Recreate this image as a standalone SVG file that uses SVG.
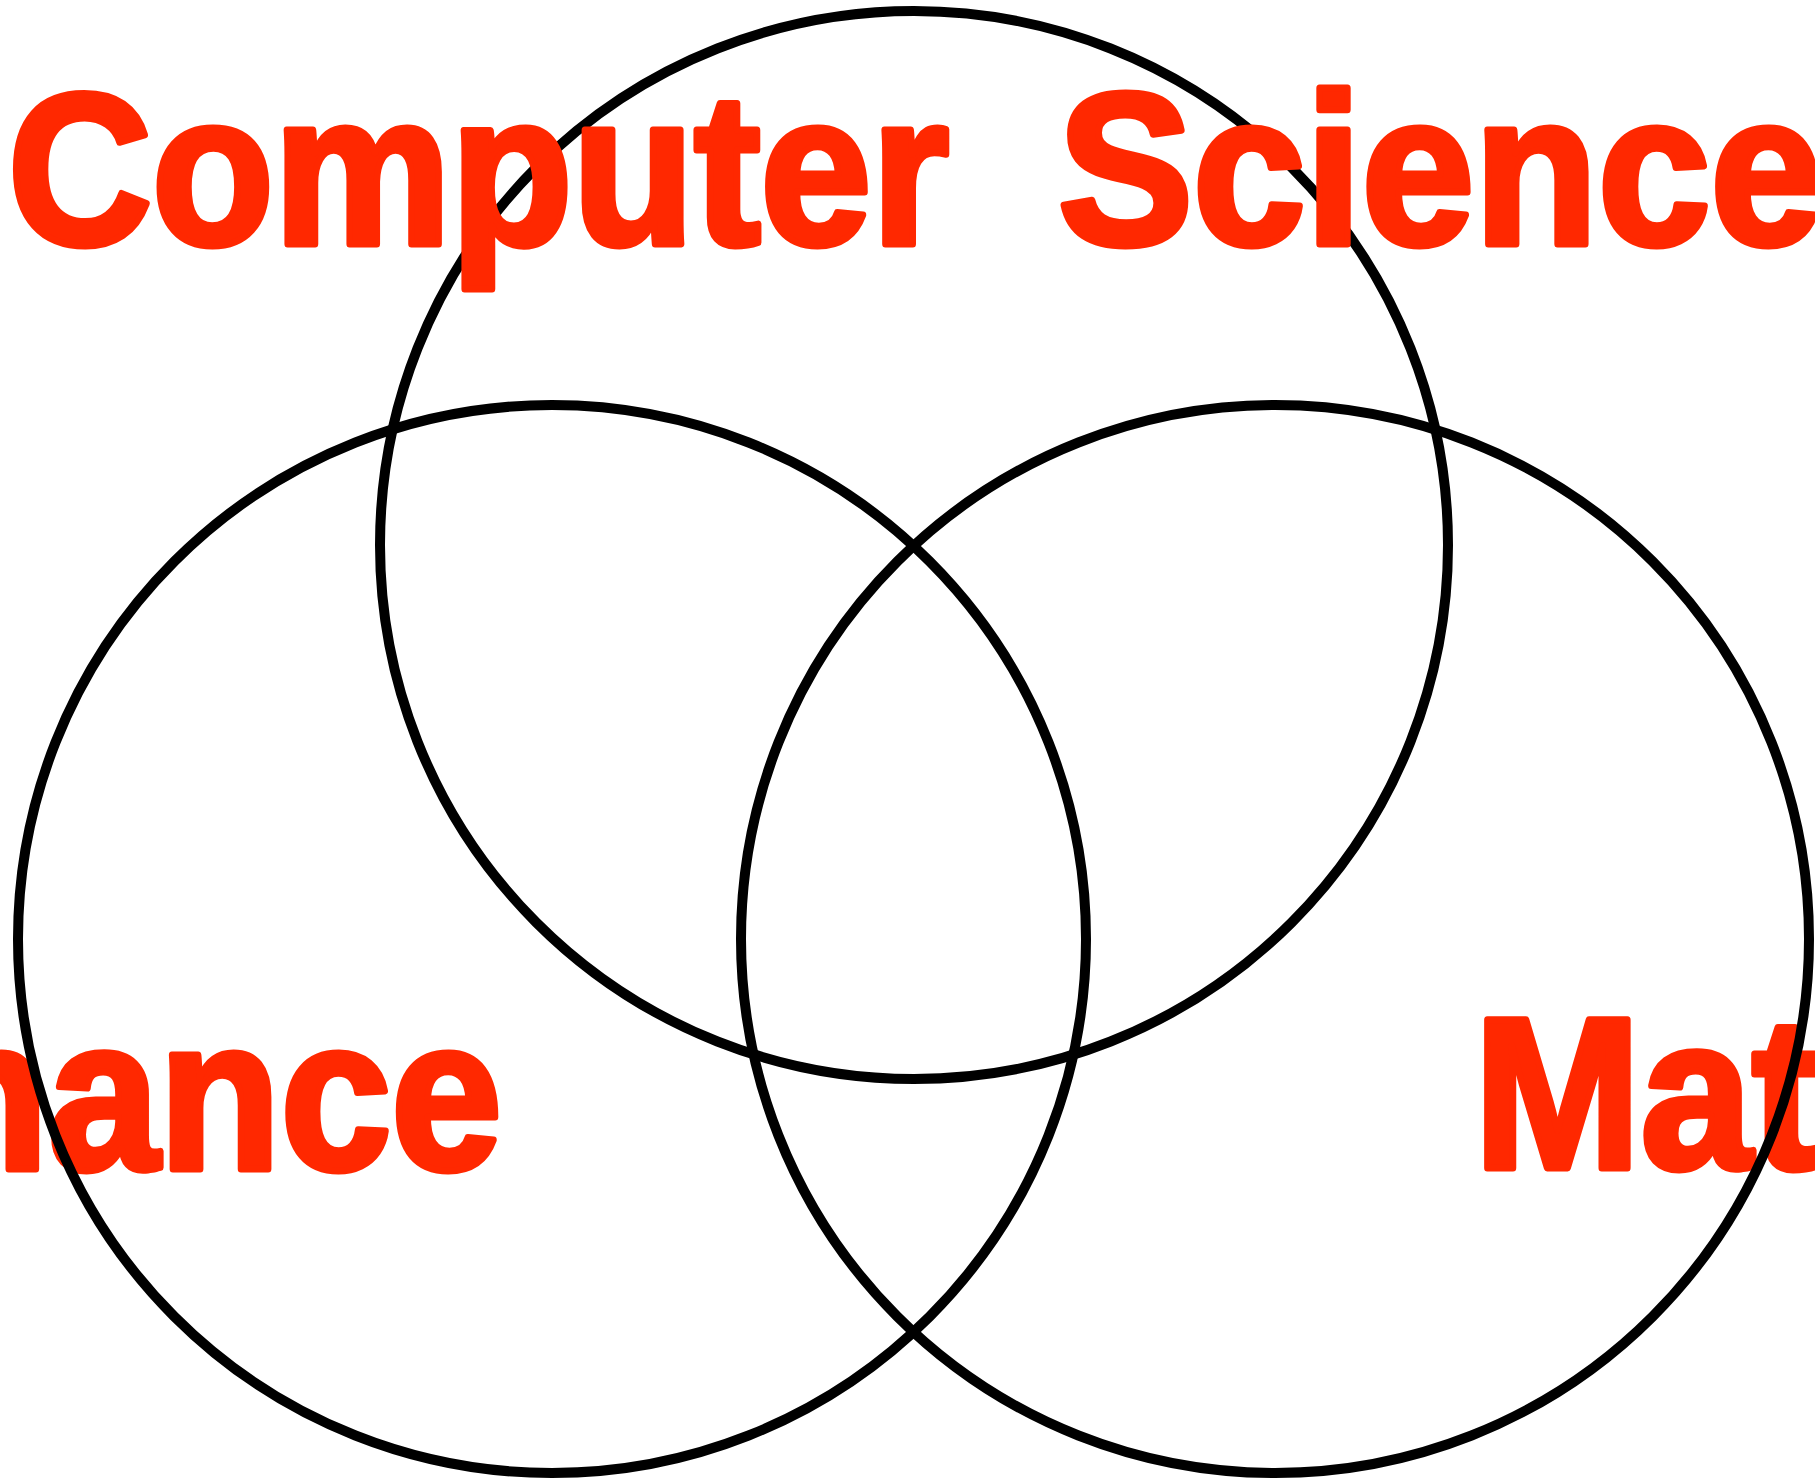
<svg xmlns="http://www.w3.org/2000/svg" width="1815" height="1481" viewBox="0 0 1815 1481">
<style>
.lbl{font-family:"Liberation Sans",Arial,sans-serif;font-weight:bold;font-size:216px;fill:#ff2800;stroke:#ff2800;stroke-width:7;stroke-linejoin:round}
.c{fill:none;stroke:#000;stroke-width:10}
</style>
<rect width="1815" height="1481" fill="#fff"/>
<g id="finance"><text class="lbl" x="-250" y="1169" textLength="752" lengthAdjust="spacingAndGlyphs">Finance</text></g>
<g id="math"><text class="lbl" x="1474" y="1168" textLength="467" lengthAdjust="spacingAndGlyphs">Math</text></g>
<g id="circles">
<circle class="c" cx="914" cy="545" r="534"/>
<circle class="c" cx="552" cy="939" r="534"/>
<circle class="c" cx="1275" cy="939" r="534"/>
</g>
<g id="computer-science">
<text class="lbl" x="8" y="244" textLength="941" lengthAdjust="spacingAndGlyphs">Computer</text>
<text class="lbl" x="1058" y="244" textLength="765" lengthAdjust="spacingAndGlyphs">Science</text>
</g>
</svg>
